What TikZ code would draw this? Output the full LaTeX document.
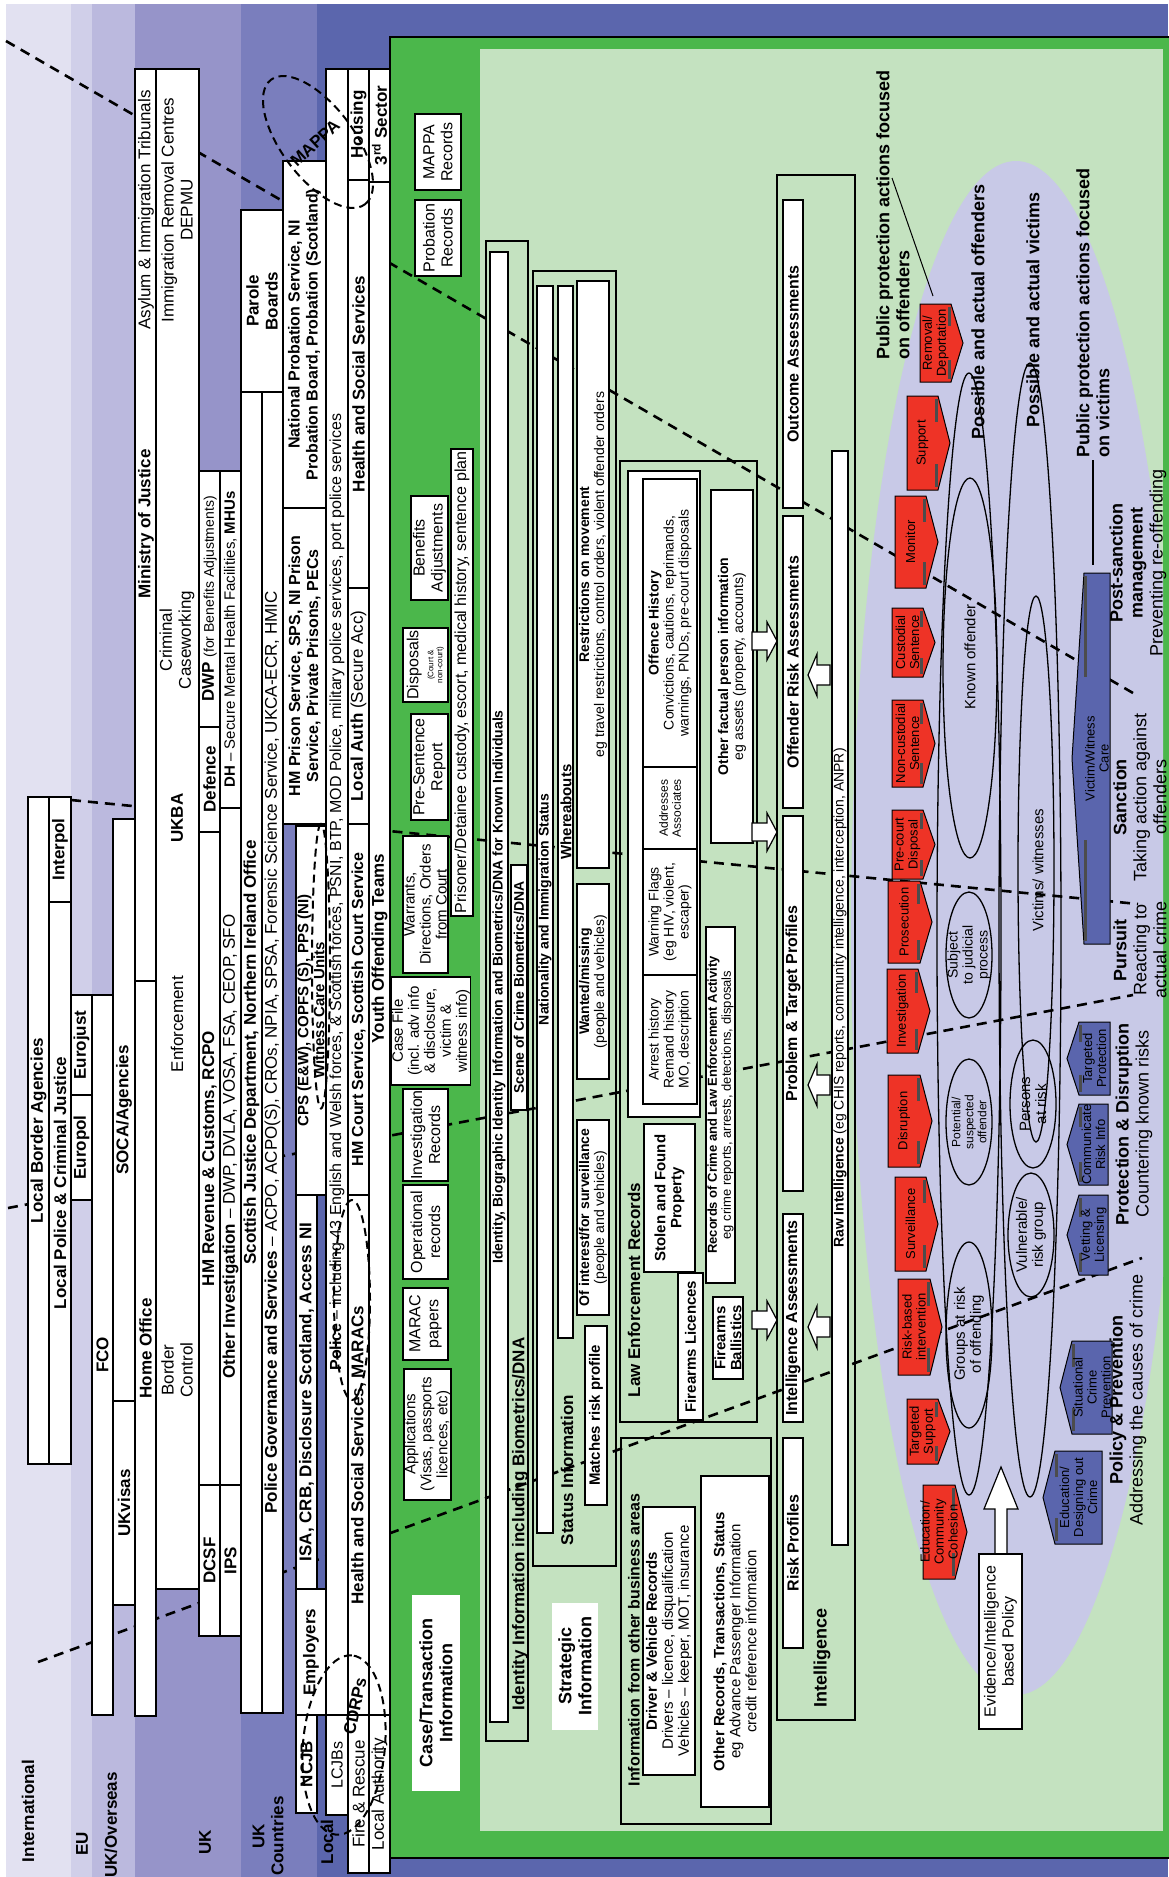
\documentclass[tikz,border=0pt]{standalone}
\usepackage{fontspec}
\setmainfont{Liberation Sans}
\usetikzlibrary{shapes.geometric}

\definecolor{bandA}{HTML}{E2E1F1}
\definecolor{bandB}{HTML}{D0CFE9}
\definecolor{bandC}{HTML}{BBB9DE}
\definecolor{bandD}{HTML}{9694C9}
\definecolor{bandE}{HTML}{7A7EBD}
\definecolor{bandF}{HTML}{5B66AD}
\definecolor{gdark}{HTML}{4BB74B}
\definecolor{glight}{HTML}{C4E2C0}
\definecolor{lav}{HTML}{C8C9E7}
\definecolor{sigred}{HTML}{EE3326}
\definecolor{sigblue}{HTML}{5A65AD}

% box between corners (x1,y1) and (x2,y2), text read bottom to top
\newcommand{\recbox}[7][]{%
  \node[box,#1,minimum width={(#6-#4)*1pt},minimum height={(#5-#3)*1pt}]
    (#2) at ({(#3+#5)/2},{(#4+#6)/2}) {#7};}
% red action, tip towards the victims side
\newcommand{\redarrow}[6]{%
  \filldraw[fill=sigred,line width=1pt] (#2,#3) -- ({#4-12},#3) -- (#4,{(#3+#5)/2})
    -- ({#4-12},#5) -- (#2,#5) -- cycle;
  \fill[black!70] ({#4-15},{#3+3}) rectangle ({#4-12},{#3+0.28*(#5-#3)});
  \fill[black!70] ({#4-15},{#5-0.28*(#5-#3)}) rectangle ({#4-12},{#5-3});
  \node[sigtext] (#1) at ({(#2+#4-12)/2},{(#3+#5)/2}) {#6};}
% blue action, tip towards the offenders side
\newcommand{\bluearrow}[6]{%
  \filldraw[fill=sigblue,line width=1pt] (#4,#3) -- ({#2+12},#3) -- (#2,{(#3+#5)/2})
    -- ({#2+12},#5) -- (#4,#5) -- cycle;
  \fill[black!70] ({#2+12},{#3+3}) rectangle ({#2+15},{#3+0.28*(#5-#3)});
  \fill[black!70] ({#2+12},{#5-0.28*(#5-#3)}) rectangle ({#2+15},{#5-3});
  \node[sigtext] (#1) at ({(#2+12+#4)/2},{(#3+#5)/2}) {#6};}

\begin{document}
\begin{tikzpicture}[x=1pt,y=-1pt,
box/.style={draw,fill=white,line width=1.3pt,rotate=90,inner sep=0.5pt,align=center,font=\fontsize{17}{19}\selectfont},
lbl/.style={rotate=90,inner sep=0pt,align=center,font=\fontsize{17}{19}\selectfont},
sigtext/.style={rotate=90,inner sep=0pt,align=center,font=\fontsize{13}{14}\selectfont},
s8/.style={font=\fontsize{8}{9}\selectfont},
s12/.style={font=\fontsize{12}{13}\selectfont},
s13/.style={font=\fontsize{13}{14}\selectfont},
s14/.style={font=\fontsize{14}{15}\selectfont},
s15/.style={font=\fontsize{15}{16}\selectfont},
s16/.style={font=\fontsize{16}{18}\selectfont},
s17/.style={font=\fontsize{17}{19}\selectfont},
s18/.style={font=\fontsize{18}{20}\selectfont},
divider/.style={line width=2.6pt,dash pattern=on 10pt off 7pt},
ring/.style={draw,ellipse,line width=2pt,dash pattern=on 8pt off 5pt},
rim/.style={line width=1.3pt},
wharrow/.style={draw,fill=white,line width=1.2pt}]

\useasboundingbox (0,0) rectangle (1168,1877);

% levels
\fill[white] (0,0) rectangle (1168,1877);
\fill[bandA] (6,4) rectangle (71,1877);
\fill[bandB] (71,4) rectangle (92,1877);
\fill[bandC] (92,4) rectangle (135,1877);
\fill[bandD] (135,4) rectangle (241,1877);
\fill[bandE] (241,4) rectangle (317,1877);
\fill[bandF] (317,4) rectangle (1168,1877);
\filldraw[fill=gdark,draw=black,line width=1.2pt] (390,37) rectangle (1175,1858);
\fill[glight] (480,49) rectangle (1163,1831);
\begin{scope}
\clip (480,49) rectangle (1163,1831);
\fill[lav] (1016,928) ellipse [x radius=165,y radius=767];
\end{scope}

% dividers between the four strands
\coordinate (d1s) at (6,41);    \coordinate (d1e) at (1133,693);
\coordinate (d2s) at (71,800);  \coordinate (d2e) at (1138,904);
\coordinate (d3s) at (8,1208);  \coordinate (d3e) at (1133,995);
\coordinate (d4s) at (38,1662); \coordinate (d4e) at (1142,1258);
\draw[divider] (d1s) -- (d1e);
\draw[divider] (d2s) -- (d2e);
\draw[divider] (d3s) -- (d3e);
\draw[divider] (d4s) -- (d4e);

% international, EU, overseas
\recbox{lba}{28}{797}{49}{1464}{\textbf{Local Border Agencies}}
\recbox{itp}{49}{797}{71}{902}{\textbf{Interpol}}
\recbox{lpc}{49}{902}{71}{1464}{\textbf{Local Police \& Criminal Justice}}
\recbox{ejt}{71}{995}{92}{1095}{\textbf{Eurojust}}
\recbox{epl}{71}{1095}{92}{1200}{\textbf{Europol}}
\recbox{fco}{92}{995}{113}{1715}{\textbf{FCO}}
\recbox{soc}{113}{819}{135}{1401}{\textbf{SOCA/Agencies}}
\recbox{ukv}{113}{1401}{135}{1605}{\textbf{UKvisas}}

% UK
\recbox{moj}{135}{69}{156}{981}{}
\node[lbl] (ait) at (146,210) {Asylum \& Immigration Tribunals};
\node[lbl] (mojt) at (146,524) {\textbf{Ministry of Justice}};
\recbox{hof}{135}{981}{156}{1716}{\textbf{Home Office}}
\recbox{ukba}{156}{69}{199}{1589}{}
\node[lbl] (irc) at (177,210) {Immigration Removal Centres\\DEPMU};
\node[lbl] (ccw) at (177,640) {Criminal\\Caseworking};
\node[lbl] (ukbat) at (177,818) {\textbf{UKBA}};
\node[lbl] (enf) at (177,1024) {Enforcement};
\node[lbl] (bco) at (177,1370) {Border\\Control};
\recbox{dwp}{199}{471}{220}{727}{\textbf{DWP} {\fontsize{14}{16}\selectfont (for Benefits Adjustments)}}
\recbox{def}{199}{727}{220}{832}{\textbf{Defence}}
\recbox{hmr}{199}{832}{220}{1485}{\textbf{HM Revenue \& Customs, RCPO}}
\recbox{dcsf}{199}{1485}{220}{1636}{\textbf{DCSF}}
\recbox[s15]{dh}{220}{471}{241}{808}{\textbf{DH} \textendash{} Secure Mental Health Facilities, \textbf{MHUs}}
\recbox{oin}{220}{808}{241}{1485}{\textbf{Other Investigation} \textendash{} DWP, DVLA, VOSA, FSA, CEOP, SFO}
\recbox{ips}{220}{1485}{241}{1636}{\textbf{IPS}}

% UK countries
\recbox{pab}{241}{210}{283}{392}{\textbf{Parole}\\\textbf{Boards}}
\recbox{sjd}{241}{392}{262}{1713}{\textbf{Scottish Justice Department, Northern Ireland Office}}
\recbox{pgs}{262}{392}{283}{1713}{\textbf{Police Governance and Services} \textendash{} ACPO, ACPO(S), CROs, NPIA, SPSA, Forensic Science Service, UKCA-ECR, HMIC}
\recbox[s16]{nps}{283}{161}{326}{508}{\textbf{National Probation Service, NI}\\\textbf{Probation Board, Probation (Scotland)}}
\recbox[s16]{hmp}{283}{508}{326}{824}{\textbf{HM Prison Service, SPS, NI Prison}\\\textbf{Service, Private Prisons, PECs}}
\recbox[s15]{cps}{296}{826}{326}{1195}{\textbf{CPS (E\&W), COPFS (S), PPS (NI)}\\\textbf{Witness Care Units}}
\recbox{isa}{296}{1195}{317}{1589}{\textbf{ISA, CRB, Disclosure Scotland, Access NI}}
\recbox{emp}{296}{1589}{326}{1715}{\textbf{Employers}}
\recbox{ncjb}{296}{1715}{317}{1813}{\textbf{NCJB}}

% local
\recbox[s16]{pol}{326}{69}{348}{1715}{\textbf{Police} \textendash{} including 43 English and Welsh forces, \& Scottish forces, PSNI, BTP, MOD Police, military police services, port police services}
\recbox[s16]{lcjb}{326}{1715}{348}{1815}{LCJBs}
\recbox{hou}{348}{69}{369}{180}{\textbf{Housing}}
\recbox{hss}{348}{180}{369}{588}{\textbf{Health and Social Services}}
\recbox{lau}{348}{588}{369}{824}{\textbf{Local Auth} (Secure Acc)}
\recbox[s16]{hmc}{348}{824}{369}{1195}{\textbf{HM Court Service, Scottish Court Service}}
\recbox{hsm}{348}{1195}{369}{1715}{\textbf{Health and Social Services, MARACs}}
\recbox{fir}{348}{1715}{369}{1873}{Fire \& Rescue}
\recbox{tsec}{369}{69}{390}{182}{\textbf{3\textsuperscript{rd} Sector}}
\recbox{yot}{369}{182}{390}{1715}{\textbf{Youth Offending Teams}}
\recbox{lau2}{369}{1715}{390}{1873}{Local Authority}

% level names
\node[lbl] (lint) at (28,1811) {\textbf{International}};
\node[lbl] (leu) at (82,1844) {\textbf{EU}};
\node[lbl] (luko) at (111,1825) {\textbf{UK/Overseas}};
\node[lbl] (luk) at (205,1842) {\textbf{UK}};
\node[lbl] (lukc) at (268,1836) {\textbf{UK}\\\textbf{Countries}};
\node[lbl] (lloc) at (327,1842) {\textbf{Local}};

% case / transaction information
\recbox[s16]{mapr}{415}{114}{461}{190}{MAPPA\\Records}
\recbox[s16]{prr}{415}{200}{461}{276}{Probation\\Records}
\recbox[s16]{bad}{411}{496}{448}{600}{Benefits\\Adjustments}
\recbox[s16]{pdc}{451}{449}{473}{916}{Prisoner/Detainee custody, escort, medical history, sentence plan}
\recbox[s16]{dsp}{403}{628}{448}{702}{Disposals\\[-3pt]{\fontsize{8}{9}\selectfont (Court \&}\\[-9pt]{\fontsize{8}{9}\selectfont non-court)}}
\recbox[s16]{psr}{411}{714}{448}{820}{Pre-Sentence\\Report}
\recbox[s15]{wdo}{403}{836}{448}{973}{Warrants,\\Directions, Orders\\from Court}
\recbox[s15]{csf}{393}{977}{469}{1085}{Case File\\(incl. adv info\\\& disclosure,\\victim \&\\witness info)}
\recbox[s16]{ivr}{403}{1089}{448}{1181}{Investigation\\Records}
\recbox[s16]{opr}{403}{1185}{448}{1279}{Operational\\records}
\recbox[s16]{mrc}{403}{1288}{448}{1360}{MARAC\\papers}
\recbox[s15]{app}{405}{1369}{450}{1500}{Applications\\(Visas, passports\\licences, etc)}
\node[lbl,s18,fill=white,minimum width=196,minimum height=48] (cti) at (436,1693) {\textbf{Case/Transaction}\\\textbf{Information}};

% identity
\recbox[fill=none]{idf}{486}{241}{528}{1741}{}
\recbox[s14]{idb}{490}{252}{508}{1722}{\textbf{Identity, Biographic Identity Information and Biometrics/DNA for Known Individuals}}
\recbox[s14]{scb}{511}{865}{527}{1110}{\textbf{Scene of Crime Biometrics/DNA}}
\node[lbl] (idl) at (520,1524) {\textbf{Identity Information including Biometrics/DNA}};

% status
\recbox[fill=none]{stf}{533}{271}{616}{1566}{}
\recbox[s14]{nis}{537}{286}{553}{1533}{\textbf{Nationality and Immigration Status}}
\recbox{whb}{558}{286}{573}{1338}{}
\node[lbl,s15] (whbt) at (566,812) {\textbf{Whereabouts}};
\recbox[s14]{rom}{577}{281}{609}{868}{\textbf{Restrictions on movement}\\eg travel restrictions, control orders, violent offender orders}
\recbox[s14]{wtm}{577}{884}{609}{1079}{\textbf{Wanted/missing}\\(people and vehicles)}
\recbox[s14]{ois}{577}{1120}{609}{1315}{\textbf{Of interest/for surveillance}\\(people and vehicles)}
\recbox[s15]{mrp}{585}{1326}{607}{1505}{\textbf{Matches risk profile}}
\node[lbl] (sti) at (567,1470) {\textbf{Status Information}};
\node[lbl,s18,fill=white,minimum width=127,minimum height=46] (sgi) at (575,1666) {\textbf{Strategic}\\\textbf{Information}};

% law enforcement records
\recbox[fill=none]{ler}{620}{461}{757}{1422}{}
\recbox{lei}{628}{471}{700}{1117}{}
\recbox[s14]{ofh}{643}{479}{697}{767}{\textbf{Offence History}\\Convictions, cautions, reprimands,\\warnings, PNDs, pre-court disposals}
\recbox[s12]{adr}{643}{767}{697}{849}{Addresses\\Associates}
\recbox[s14]{wfl}{643}{849}{697}{975}{Warning Flags\\(eg HIV, violent,\\escaper)}
\recbox[s14]{arh}{643}{975}{697}{1104}{Arrest history\\Remand history\\MO, description}
\recbox[s14]{ofp}{711}{490}{753}{843}{\textbf{Other factual person information}\\eg assets (property, accounts)}
\recbox[s13]{rcl}{706}{927}{735}{1283}{\textbf{Records of Crime and Law Enforcement Activity}\\eg crime reports, arrests, detections, disposals}
\recbox[s15]{sfp}{644}{1124}{695}{1272}{\textbf{Stolen and Found}\\\textbf{Property}}
\recbox[s15]{fli}{678}{1273}{703}{1420}{\textbf{Firearms Licences}}
\recbox[s15]{fba}{713}{1297}{743}{1379}{\textbf{Firearms}\\\textbf{Ballistics}}
\node[lbl] (lert) at (634,1290) {\textbf{Law Enforcement Records}};

% other business areas
\recbox[fill=none]{iob}{621}{1438}{771}{1824}{}
\node[lbl,s16] (iobt) at (634,1640) {\textbf{Information from other business areas}};
\recbox[s15]{dvr}{643}{1507}{695}{1775}{\textbf{Driver \& Vehicle Records}\\Drivers \textendash{} licence, disqualification\\Vehicles \textendash{} keeper, MOT, insurance}
\recbox[s15]{orts}{701}{1476}{769}{1807}{\textbf{Other Records, Transactions, Status}\\eg Advance Passenger Information\\credit reference information}

% intelligence
\recbox[fill=none]{intf}{777}{175}{855}{1720}{}
\recbox[s16]{oca}{783}{200}{803}{508}{\textbf{Outcome Assessments}}
\recbox[s16]{ora}{783}{516}{803}{808}{\textbf{Offender Risk Assessments}}
\recbox[s16]{ptp}{783}{816}{803}{1191}{\textbf{Problem \& Target Profiles}}
\recbox[s16]{ina}{783}{1214}{803}{1422}{\textbf{Intelligence Assessments}}
\recbox[s16]{rpr}{783}{1438}{803}{1648}{\textbf{Risk Profiles}}
\recbox[s14]{rwi}{832}{451}{848}{1545}{\textbf{Raw Intelligence} (eg CHIS reports, community intelligence, interception, ANPR)}
\node[lbl,s18] (intl) at (822,1658) {\textbf{Intelligence}};

% flow arrows
\draw[wharrow] (752,632) -- (767,632) -- (767,622) -- (777,641) -- (767,660) -- (767,650) -- (752,650) -- cycle;
\draw[wharrow] (752,823) -- (767,823) -- (767,813) -- (777,832) -- (767,851) -- (767,841) -- (752,841) -- cycle;
\draw[wharrow] (752,1311) -- (767,1311) -- (767,1301) -- (777,1320) -- (767,1339) -- (767,1329) -- (752,1329) -- cycle;
\draw[wharrow] (830,665) -- (817,665) -- (817,654) -- (808,675) -- (817,696) -- (817,685) -- (830,685) -- cycle;
\draw[wharrow] (830,1075) -- (817,1075) -- (817,1064) -- (808,1085) -- (817,1106) -- (817,1095) -- (830,1095) -- cycle;
\draw[wharrow] (830,1317) -- (817,1317) -- (817,1306) -- (808,1327) -- (817,1348) -- (817,1337) -- (830,1337) -- cycle;
\draw[wharrow] (995,1556) -- (995,1509) -- (984,1509) -- (1001,1467) -- (1018,1509) -- (1007,1509) -- (1007,1556);
\recbox[s16]{evp}{979}{1554}{1022}{1729}{Evidence/Intelligence\\based Policy}

% actions against offenders
\redarrow{rem}{920}{304}{963}{382}{Removal/\\Deportation}
\redarrow{sup}{907}{396}{950}{490}{Support}
\redarrow{mon}{895}{496}{938}{588}{Monitor}
\redarrow{cus}{892}{608}{935}{677}{Custodial\\Sentence}
\redarrow{ncu}{892}{700}{935}{787}{Non-custodial\\Sentence}
\redarrow{pcd}{892}{810}{935}{879}{Pre-court\\Disposal}
\redarrow{pro}{888}{881}{932}{963}{Prosecution}
\redarrow{inv}{887}{969}{930}{1053}{Investigation}
\redarrow{dis}{888}{1075}{932}{1167}{Disruption}
\redarrow{sur}{895}{1177}{938}{1271}{Surveillance}
\redarrow{rbi}{898}{1279}{942}{1375}{Risk-based\\intervention}
\redarrow{tsu}{907}{1399}{950}{1464}{Targeted\\Support}
\redarrow{edu}{923}{1485}{967}{1579}{Education/\\Community\\Cohesion}

% actions for victims
\bluearrow{vwc}{1072}{573}{1110}{944}{Victim/Witness\\Care}
\bluearrow{tpr}{1067}{1022}{1110}{1095}{Targeted\\Protection}
\bluearrow{cri}{1067}{1104}{1108}{1185}{Communicate\\Risk Info}
\bluearrow{vet}{1067}{1195}{1108}{1275}{Vetting \&\\Licensing}
\bluearrow{scp}{1060}{1341}{1112}{1434}{Situational\\Crime\\Prevention}
\bluearrow{edc}{1043}{1451}{1102}{1544}{Education/\\Designing out\\Crime}

% offender and victim populations
\draw[rim] (969,934) ellipse [x radius=32,y radius=561];
\draw[rim] (970,668) ellipse [x radius=27,y radius=190];
\draw[rim] (969,955) ellipse [x radius=23,y radius=63];
\draw[rim] (969,1122) ellipse [x radius=23,y radius=63];
\draw[rim] (969,1335) ellipse [x radius=23,y radius=93];
\draw[rim] (1030,930) ellipse [x radius=31,y radius=567];
\draw[rim] (1036,869) ellipse [x radius=18,y radius=273];
\draw[rim] (1033,1104) ellipse [x radius=23,y radius=64];
\draw[rim] (1031,1235) ellipse [x radius=23,y radius=62];
\node[lbl,s15] (kno) at (970,657) {Known offender};
\node[lbl,s14] (sjp) at (969,955) {Subject\\to judicial\\process};
\node[lbl,s12] (pso) at (969,1122) {Potential/\\suspected\\offender};
\node[lbl,s15] (gro) at (969,1334) {Groups at risk\\of offending};
\node[lbl,s15] (vwi) at (1038,870) {Victims/ witnesses};
\node[lbl,s15] (par) at (1033,1104) {Persons\\at risk};
\node[lbl,s15] (vul) at (1031,1235) {Vulnerable/\\risk group};

% headings on the right
\node[lbl,s18,anchor=west,align=left] (ppo) at (893,360) {\textbf{Public protection actions focused}\\\textbf{on offenders}};
\node[lbl,s18,anchor=west] (pao) at (978,440) {\textbf{Possible and actual offenders}};
\node[lbl,s18,anchor=west] (pav) at (1033,428) {\textbf{Possible and actual victims}};
\node[lbl,s18,anchor=west,align=left] (ppv) at (1093,458) {\textbf{Public protection actions focused}\\\textbf{on victims}};
\coordinate (ppoa) at (892,178); \coordinate (ppob) at (933,296);
\coordinate (ppva) at (1093,460); \coordinate (ppvb) at (1093,565);
\draw[line width=1pt] (ppoa) -- (ppob);
\draw[line width=1.3pt] (ppva) -- (ppvb);
\node[lbl,s18] (psm) at (1138,563) {\textbf{Post-sanction}\\\textbf{management}\\Preventing re-offending};
\node[lbl,s18] (snc) at (1140,797) {\textbf{Sanction}\\Taking action against\\offenders};
\node[lbl,s18] (pur) at (1140,950) {\textbf{Pursuit}\\Reacting to\\actual crime};
\node[lbl,s18] (prd) at (1134,1124) {\textbf{Protection \& Disruption}\\Countering known risks};
\node[lbl,s18] (ppr) at (1128,1400) {\textbf{Policy \& Prevention}\\Addressing the causes of crime};

% partnerships
\node[ring,minimum width=156,minimum height=72,rotate=-53] (mappa) at (318,142) {};
\node[rotate=43,inner sep=0pt,s17] (mappat) at (315,143) {\textbf{MAPPA}};
\node[ring,minimum width=180,minimum height=82,rotate=85] (cdrp) at (344,1745) {};
\node[rotate=78,inner sep=0pt,s17] (cdrpt) at (355,1706) {\textbf{CDRPs}};
\node[ring,minimum width=285,minimum height=18,rotate=90] (wcu) at (321,966) {};
\node[ring,minimum width=200,minimum height=36,rotate=90] (mrcs) at (352,1300) {};

\end{tikzpicture}
\end{document}
